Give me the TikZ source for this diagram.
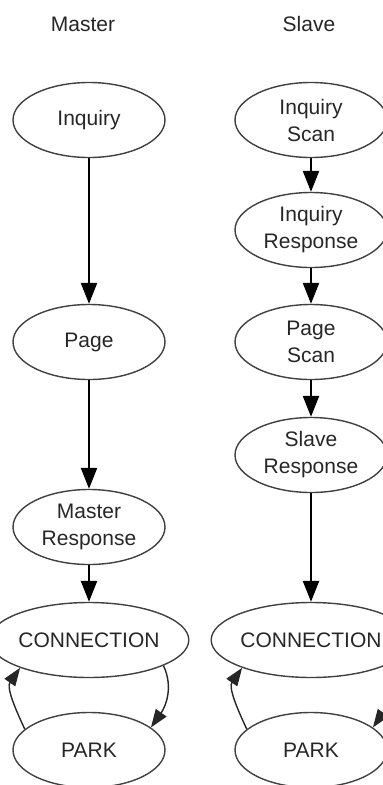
\documentclass[tikz,border=0pt]{standalone}
\usepackage{fontspec}
\setmainfont{Liberation Sans}
\usetikzlibrary{arrows.meta,shapes.geometric}
\begin{document}
\begin{tikzpicture}[x=1pt,y=1pt,
  state/.style={ellipse,draw=black!75,line width=1.4pt,minimum width=152pt,
    minimum height=75pt,inner sep=0pt,align=center,text=black!85,
    font=\fontsize{21}{27}\selectfont},
  title/.style={text=black!85,font=\fontsize{21}{27}\selectfont},
  flow/.style={draw=black,line width=2.6pt,-{Triangle[length=21pt,width=16pt]}},
  loop/.style={draw=black!85,line width=1.4pt,-{Triangle[length=18pt,width=13pt]}}]
\clip (0,0) rectangle (383,-785);
\useasboundingbox (0,0) rectangle (383,-785);

% column titles
\node[title] (tm) at (83,-24) {Master};
\node[title] (ts) at (309,-24) {Slave};

% master states
\node[state] (inq)   at (89,-120) {Inquiry};
\node[state] (page)  at (89,-342) {Page};
\node[state] (mresp) at (89,-527) {Master\\Response};
\node[state] (mconn) at (89,-640) {CONNECTION};
\node[state] (mpark) at (89,-750) {PARK};

% slave states
\node[state] (iscan) at (311,-120) {Inquiry\\Scan};
\node[state] (iresp) at (311,-230) {Inquiry\\Response};
\node[state] (pscan) at (311,-342) {Page\\Scan};
\node[state] (sresp) at (311,-455) {Slave\\Response};
\node[state] (sconn) at (311,-640) {CONNECTION};
\node[state] (spark) at (311,-750) {PARK};

% master transitions
\draw[flow] (inq) -- (page);
\draw[flow] (page) -- (mresp);
\draw[flow] (mresp) -- (mconn);
\draw[loop] (mpark.162) to[out=115,in=235] (mconn.202);
\draw[loop] (mconn.-19) to[out=-65,in=55] (mpark.20);

% slave transitions
\draw[flow] (iscan) -- (iresp);
\draw[flow] (iresp) -- (pscan);
\draw[flow] (pscan) -- (sresp);
\draw[flow] (sresp) -- (sconn);
\draw[loop] (spark.162) to[out=115,in=235] (sconn.202);
\draw[loop] (sconn.-19) to[out=-65,in=55] (spark.20);
\end{tikzpicture}
\end{document}
